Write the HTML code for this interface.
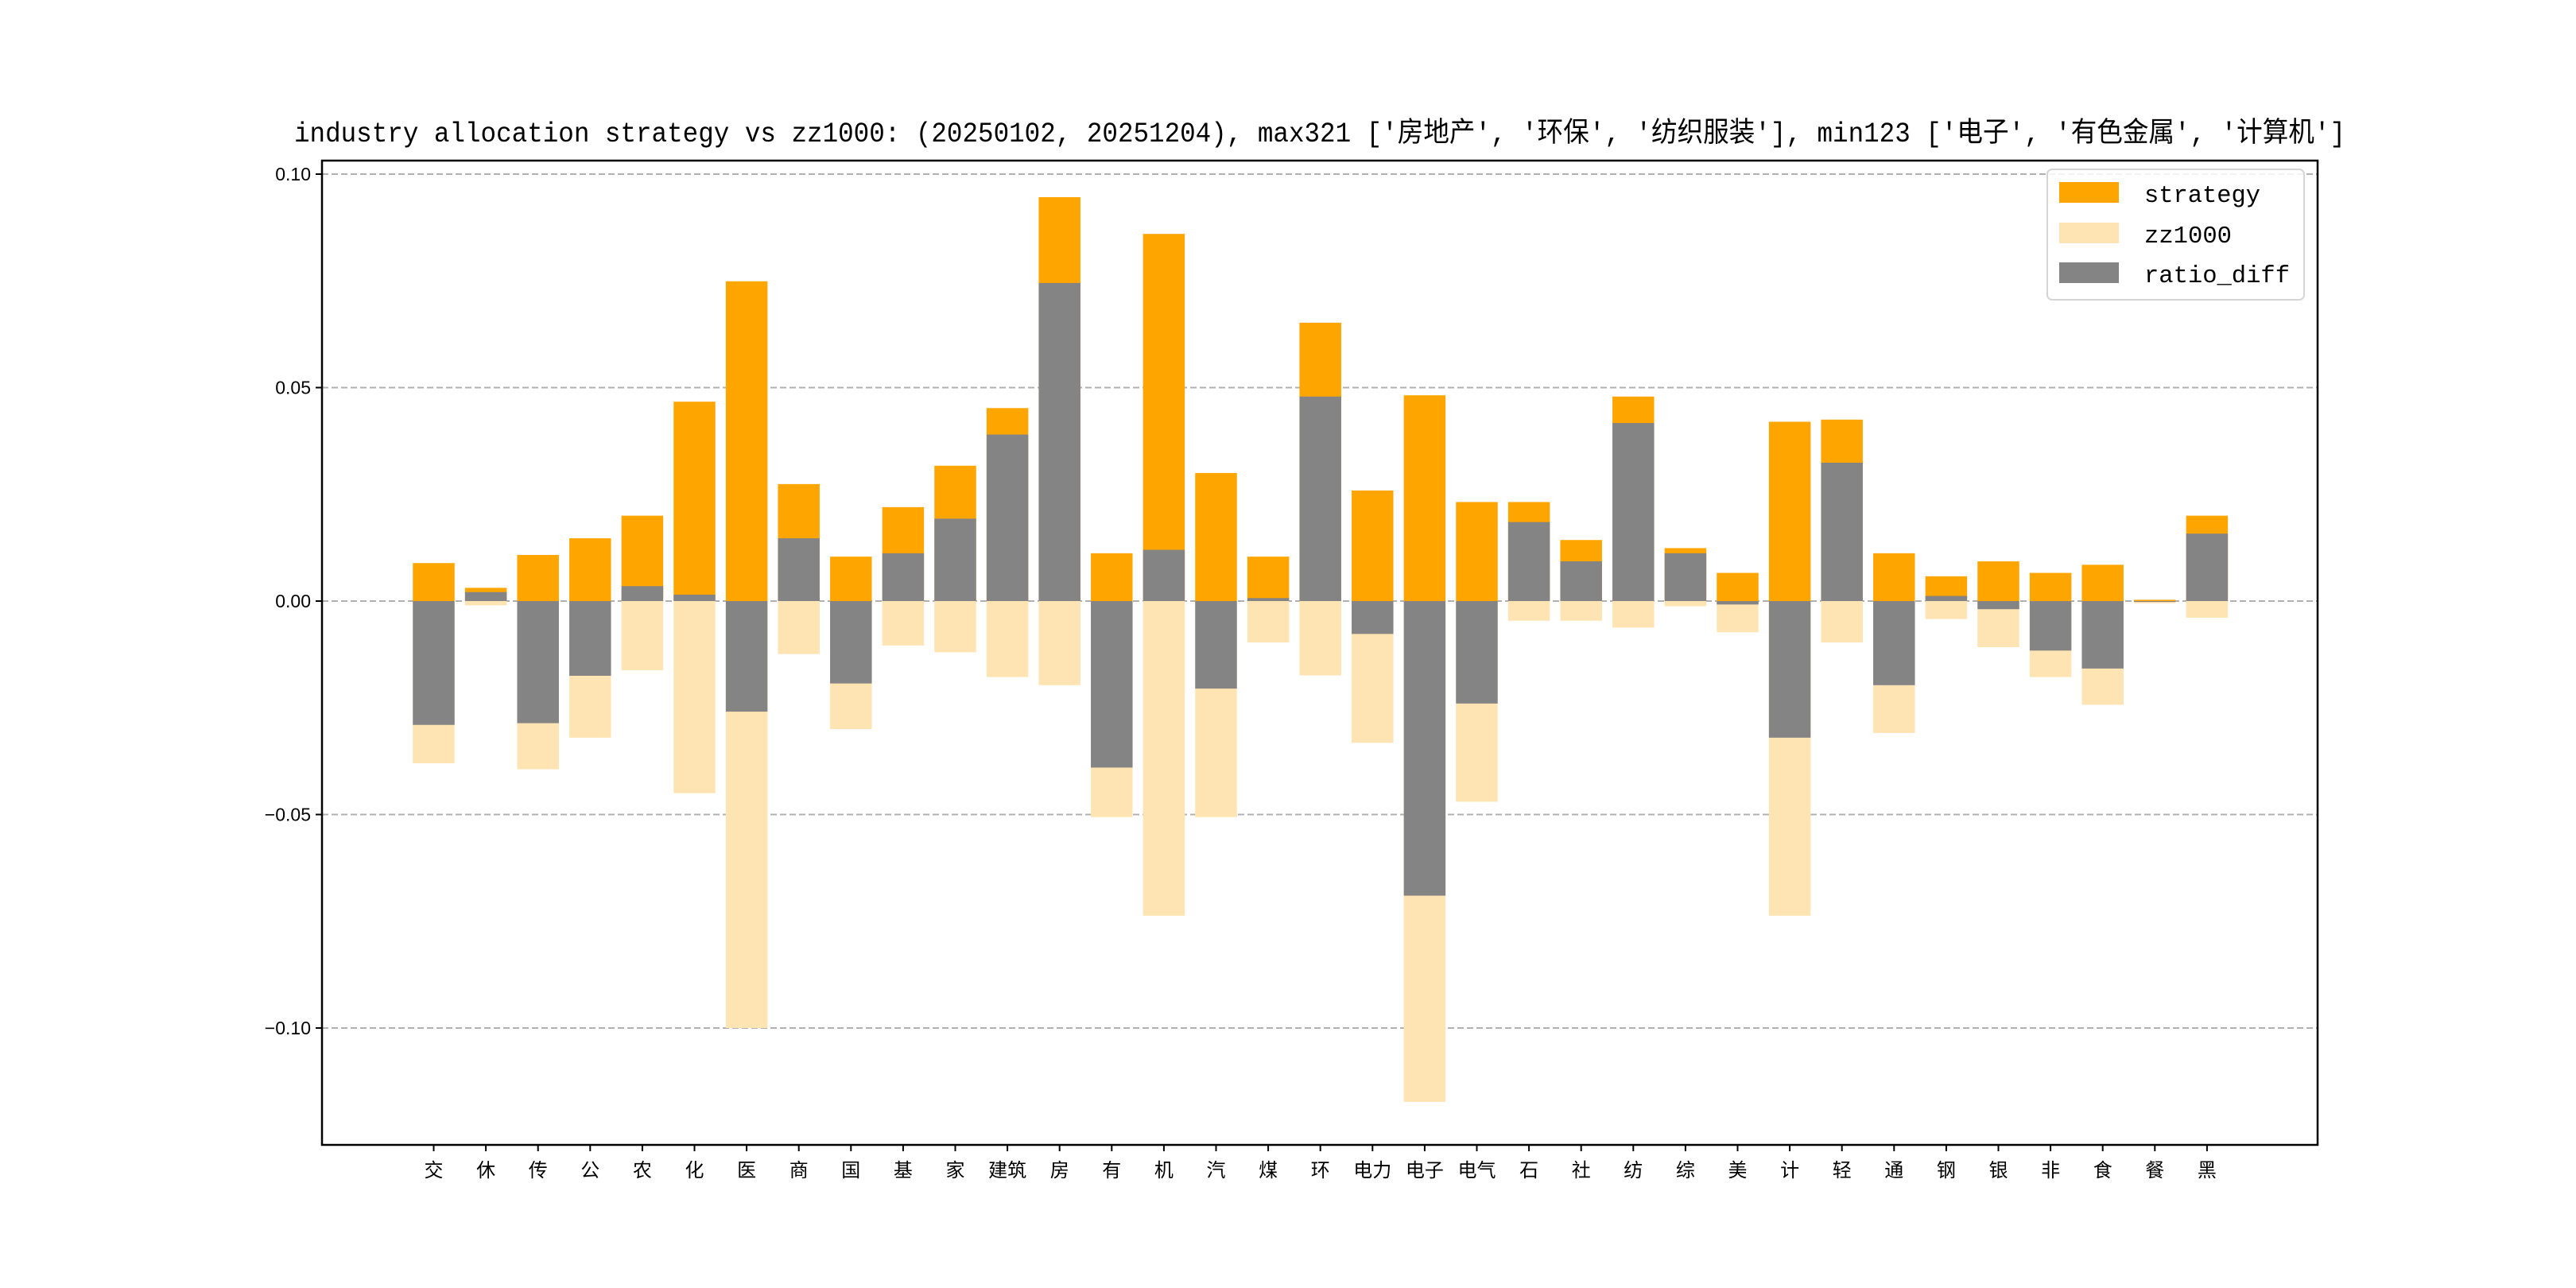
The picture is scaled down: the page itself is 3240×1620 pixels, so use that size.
<!DOCTYPE html>
<html><head><meta charset="utf-8"><style>
html,body{margin:0;padding:0;background:#fff;}
svg{display:block;}
</style></head><body>
<svg id="chart" width="3240" height="1620" xmlns="http://www.w3.org/2000/svg">
<rect width="3240" height="1620" fill="#fff"/>
<text x="370" y="178" font-family="Liberation Mono, 'Noto Sans CJK SC', monospace" font-size="35" textLength="2580" lengthAdjust="spacingAndGlyphs">industry allocation strategy vs zz1000: (20250102, 20251204), max321 ['房地产', '环保', '纺织服装'], min123 ['电子', '有色金属', '计算机']</text>
<g id="grid"></g>
<g id="bars"></g>
<rect x="405" y="202" width="2510" height="1238" fill="none" stroke="#000" stroke-width="2.5"/>
<g id="axes"></g>
<g>
<rect x="2575" y="213" width="323" height="164" rx="6" fill="#fff" fill-opacity="0.85" stroke="#d5d5d5" stroke-width="2"/>
<rect x="2590" y="229" width="75" height="26" fill="#FFA500"/>
<text x="2697" y="254" font-family="Liberation Mono, monospace" font-size="31" textLength="146" lengthAdjust="spacingAndGlyphs">strategy</text>
<rect x="2590" y="280" width="75" height="26" fill="#FFE4B3"/>
<text x="2697" y="305" font-family="Liberation Mono, monospace" font-size="31" textLength="110" lengthAdjust="spacingAndGlyphs">zz1000</text>
<rect x="2590" y="330" width="75" height="26" fill="#848484"/>
<text x="2697" y="355" font-family="Liberation Mono, monospace" font-size="31" textLength="183" lengthAdjust="spacingAndGlyphs">ratio_diff</text>
</g>
</svg>
<script>
const categories = ['交','休','传','公','农','化','医','商','国','基','家','建筑','房','有','机','汽','煤','环','电力','电子','电气','石','社','纺','综','美','计','轻','通','钢','银','非','食','餐','黑'];
const strategy = [0.0089,0.0031,0.0108,0.0147,0.0200,0.0467,0.0749,0.0274,0.0104,0.0220,0.0317,0.0452,0.0946,0.0112,0.0860,0.0300,0.0104,0.0652,0.0259,0.0482,0.0232,0.0232,0.0143,0.0479,0.0124,0.0066,0.0420,0.0425,0.0112,0.0058,0.0093,0.0066,0.0085,0.0003,0.0200];
const zz1000 = [-0.0380,-0.0010,-0.0394,-0.0320,-0.0162,-0.0450,-0.1000,-0.0124,-0.0300,-0.0104,-0.0120,-0.0178,-0.0197,-0.0506,-0.0737,-0.0506,-0.0097,-0.0174,-0.0332,-0.1173,-0.0470,-0.0046,-0.0046,-0.0062,-0.0012,-0.0073,-0.0737,-0.0097,-0.0309,-0.0042,-0.0108,-0.0178,-0.0243,-0.0005,-0.0039];
const ratioDiff = [-0.0290,0.0021,-0.0286,-0.0175,0.0035,0.0015,-0.0259,0.0147,-0.0193,0.0112,0.0193,0.0390,0.0745,-0.0390,0.0120,-0.0205,0.0007,0.0479,-0.0077,-0.0690,-0.0240,0.0185,0.0093,0.0417,0.0112,-0.0008,-0.0320,0.0324,-0.0197,0.0012,-0.0019,-0.0116,-0.0158,-0.0002,0.0158];
const yTicks = [0.10,0.05,0.00,-0.05,-0.10];
const yTickLabels = ['0.10','0.05','0.00','\u22120.05','\u22120.10'];

const NS='http://www.w3.org/2000/svg';
const L=405,R=2915,T=202,B=1440;
const y0px=756, scale=5370;
function yScale(v){return y0px - v*scale;}
const n=categories.length;
const step=65.6;
const firstX=545.5;
function xScale(i){return firstX + step*i;}
const bw=step*0.8;
function mk(tag,attrs,parent){const e=document.createElementNS(NS,tag);for(const k in attrs)e.setAttribute(k,attrs[k]);parent.appendChild(e);return e;}
const grid=document.getElementById('grid'),bars=document.getElementById('bars'),axes=document.getElementById('axes');
yTicks.forEach((t,i)=>{
  const y=yScale(t);
  const g=mk('line',{x1:L,x2:R,y1:y,y2:y,stroke:'#b0b0b0','stroke-width':2,'stroke-dasharray':'8,4'},grid);
  
  
  const tk=mk('line',{x1:L-8,x2:L,y1:y,y2:y,stroke:'#000','stroke-width':2},axes);
  
  
  const tx=mk('text',{x:L-14,y:y+8,'text-anchor':'end','font-family':'Liberation Sans, sans-serif','font-size':23},axes);
  tx.textContent=yTickLabels[i];
  
  
});
function bar(v,i,fill,name){
  const y=yScale(Math.max(v,0)),h=Math.abs(yScale(v)-yScale(0));
  const r=mk('rect',{x:xScale(i)-bw/2,y:y,width:bw,height:h,fill:fill},bars);
  
  
}
categories.forEach((c,i)=>{
  bar(strategy[i],i,'#FFA500','bar-strategy');
  bar(zz1000[i],i,'#FFE4B3','bar-zz1000');
  bar(ratioDiff[i],i,'#848484','bar-ratio-diff');
  const x=xScale(i);
  const tk=mk('line',{x1:x,x2:x,y1:B,y2:B+8,stroke:'#000','stroke-width':2},axes);
  
  
  const tx=mk('text',{x:x,y:B+40,'text-anchor':'middle','font-family':"'Noto Sans CJK SC', sans-serif",'font-size':24},axes);
  tx.textContent=c;
  
  
});
</script>
</body></html>
